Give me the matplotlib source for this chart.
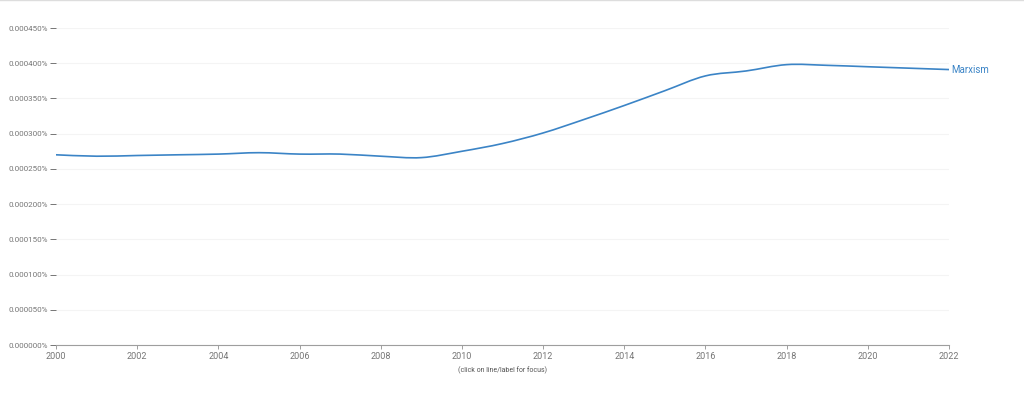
import matplotlib
matplotlib.use("Agg")
import matplotlib.pyplot as plt
from matplotlib.lines import Line2D
from matplotlib.path import Path
from matplotlib.patches import PathPatch
from matplotlib.ticker import FuncFormatter

# yearly frequency of "Marxism" (percent of corpus)
years = [2000, 2001, 2002, 2003, 2004, 2005, 2006, 2007, 2008, 2009, 2010,
         2011, 2012, 2013, 2014, 2015, 2016, 2017, 2018, 2019, 2020, 2021, 2022]
marxism = [0.000270, 0.000268, 0.000269, 0.000270, 0.000271, 0.000273,
           0.000271, 0.000271, 0.000268, 0.000266, 0.000275, 0.000286,
           0.000301, 0.000320, 0.000340, 0.000361, 0.000382, 0.000389,
           0.000398, 0.000397, 0.000395, 0.000393, 0.000391]
series_label = "Marxism"
y_ticks = [0.0, 0.00005, 0.0001, 0.00015, 0.0002, 0.00025, 0.0003, 0.00035, 0.0004, 0.00045]
x_ticks = list(range(2000, 2023, 2))

plt.rcParams["font.family"] = ["Roboto", "DejaVu Sans"]
line_color = "#3b84c6"
tick_color = "#757575"


def smooth_path(xs, ys):
    # catmull-rom curve through the data points, drawn as cubic beziers
    verts = [(xs[0], ys[0])]
    codes = [Path.MOVETO]
    n = len(xs)
    for i in range(n - 1):
        x0, y0 = xs[max(i - 1, 0)], ys[max(i - 1, 0)]
        x1, y1 = xs[i], ys[i]
        x2, y2 = xs[i + 1], ys[i + 1]
        x3, y3 = xs[min(i + 2, n - 1)], ys[min(i + 2, n - 1)]
        c1 = (x1 + (x2 - x0) / 6, y1 + (y2 - y0) / 6)
        c2 = (x2 - (x3 - x1) / 6, y2 - (y3 - y1) / 6)
        verts += [c1, c2, (x2, y2)]
        codes += [Path.CURVE4] * 3
    return Path(verts, codes)


fig = plt.figure(figsize=(10.24, 3.99), dpi=100)
ax = fig.add_axes([56 / 1024, 1 - 345 / 399, (949 - 56) / 1024, (345 - 28) / 399])

ax.add_patch(PathPatch(smooth_path(years, marxism), facecolor="none",
                       edgecolor=line_color, linewidth=1.2, capstyle="round"))
ax.text(years[-1] + 0.05, marxism[-1], series_label, color=line_color,
        fontsize=7, va="center", ha="left")

ax.set_xlim(2000, 2022)
ax.set_ylim(0, 0.00045)
ax.set_xticks(x_ticks)
ax.set_yticks(y_ticks)
ax.yaxis.set_major_formatter(FuncFormatter(lambda v, p: f"{v:.6f}%"))

for s in ["top", "right", "left"]:
    ax.spines[s].set_visible(False)
ax.spines["bottom"].set_color("#9e9e9e")
ax.spines["bottom"].set_linewidth(0.8)

ax.tick_params(axis="y", length=4, pad=2, color=tick_color, labelcolor=tick_color,
               labelsize=5.8, width=0.7)
ax.tick_params(axis="x", length=3, pad=2, color="#9e9e9e", labelcolor=tick_color,
               labelsize=6.5, width=0.7)
ax.grid(axis="y", color="#f4f4f4", linewidth=0.8)
ax.set_axisbelow(True)

fig.text(502 / 1024, 1 - 370 / 399, "(click on line/label for focus)",
         fontsize=5, color="#555555", ha="center", va="center")
fig.add_artist(Line2D([0, 1], [0.999, 0.999], transform=fig.transFigure,
                      color="#dddddd", linewidth=1))

fig.savefig("out.png", dpi=100)
